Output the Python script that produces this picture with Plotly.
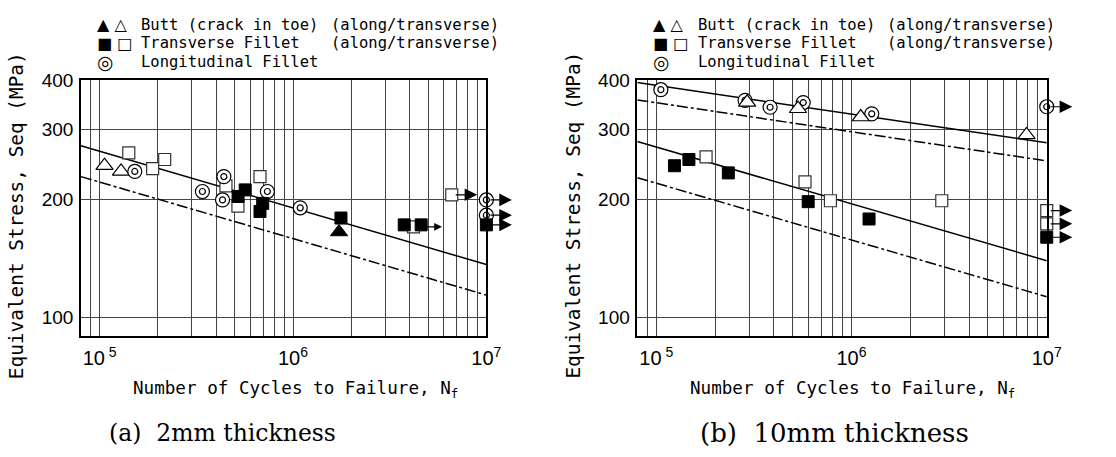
import math
import plotly.graph_objects as go

W, H = 1116, 457

# ---------------- (a) 2 mm thickness ----------------
a_butt_along_N = [1.73e6]
a_butt_along_S = [165]
a_butt_trans_N = [1.06e5, 1.29e5]
a_butt_trans_S = [243, 235]
a_tf_along_N = [5.2e5, 5.66e5, 6.97e5, 6.75e5, 1.77e6, 3.76e6, 4.6e6]
a_tf_along_S = [203, 211, 195, 186, 179, 172, 172]
a_tf_trans_N = [1.415e5, 1.88e5, 2.17e5, 4.5e5, 5.19e5, 6.75e5]
a_tf_trans_S = [262, 239, 252, 216, 192, 228]
a_long_N = [1.52e5, 3.4e5, 4.39e5, 4.32e5, 7.37e5, 1.09e6]
a_long_S = [235, 209, 228, 199, 209, 190]
# run-outs (no failure)
a_tf_along_run_N = [1e7]
a_tf_along_run_S = [172]
a_tf_trans_run_N = [6.62e6]
a_tf_trans_run_S = [205]
a_tf_trans_short_run_N = [4.2e6]
a_tf_trans_short_run_S = [170]
a_long_run_N = [1e7, 1e7]
a_long_run_S = [199, 182]
# design curves (mean / lower) at N = 8e4 and 1e7
curve_N = [8e4, 1e7]
a_mean_S = [273, 136.4]
a_lower_S = [228, 114.1]

# ---------------- (b) 10 mm thickness ----------------
b_butt_trans_N = [2.92e5, 5.32e5, 1.115e6, 7.88e6]
b_butt_trans_S = [352, 339, 323, 291]
b_tf_along_N = [1.24e5, 1.47e5, 2.34e5, 6.0e5, 1.23e6]
b_tf_along_S = [243, 252, 233, 197, 178]
b_tf_trans_N = [1.8e5, 5.78e5, 7.8e5, 2.9e6]
b_tf_trans_S = [256, 221, 198, 198]
b_long_N = [1.056e5, 2.85e5, 3.83e5, 5.66e5, 1.27e6]
b_long_S = [379, 356, 342, 351.5, 329]
b_long_run_N = [1e7]
b_long_run_S = [343]
b_tf_along_run_N = [1e7]
b_tf_along_run_S = [160]
b_tf_trans_run_N = [1e7, 1e7]
b_tf_trans_run_S = [187, 173]
b_long_mean_S = [395, 278]
b_long_lower_S = [357, 250]
b_tf_mean_S = [280, 139.5]
b_tf_lower_S = [226.6, 113]

# axis ticks
y_ticks = [100, 200, 300, 400]
x_grid = [8e4, 9e4] + [m * 10 ** d for d in (5, 6) for m in range(1, 10)] + [1e7]
x_labels = {1e5: "10<sup> 5</sup>", 1e6: "10<sup>6</sup>", 1e7: "10<sup>7</sup>"}

MONO = "DejaVu Sans Mono"
SANS = "Liberation Sans Narrow, Liberation Sans, Arial"
SERIF = "DejaVu Serif"

fig = go.Figure()

MK = {
    "tri_fill": dict(symbol="triangle-up", size=15, color="black",
                     line=dict(color="black", width=1)),
    "tri_open": dict(symbol="triangle-up", size=15, color="white",
                     line=dict(color="black", width=1.2)),
    "sq_fill": dict(symbol="square", size=12, color="black",
                    line=dict(color="black", width=1)),
    "sq_open": dict(symbol="square", size=12, color="white",
                    line=dict(color="#333", width=1.2)),
    "circ_out": dict(symbol="circle", size=14, color="white",
                     line=dict(color="black", width=1.2)),
    "circ_in": dict(symbol="circle-open", size=6, color="black",
                    line=dict(color="black", width=1.2)),
}


def pts(N, S, kind, xa, ya):
    fig.add_trace(go.Scatter(x=N, y=S, mode="markers", marker=MK[kind],
                             xaxis=xa, yaxis=ya, cliponaxis=False,
                             showlegend=False, hoverinfo="x+y"))


def dbl(N, S, xa, ya):
    pts(N, S, "circ_out", xa, ya)
    pts(N, S, "circ_in", xa, ya)


def curve(N, S, dash, xa, ya):
    fig.add_trace(go.Scatter(x=N, y=S, mode="lines",
                             line=dict(color="black", width=1.5, dash=dash),
                             xaxis=xa, yaxis=ya, showlegend=False,
                             hoverinfo="skip"))


def runout(N, S, xref, yref, length=27, head=2.1):
    for n, s in zip(N, S):
        fig.add_annotation(x=math.log10(n), y=math.log10(s), xref=xref, yref=yref,
                           text="", showarrow=True, ax=length, ay=0,
                           arrowside="start", startarrowhead=2,
                           startarrowsize=head, arrowwidth=1.2,
                           arrowcolor="black", standoff=4)


DASHDOT = "11px,3px,3px,3px"

# panel (a)
curve(curve_N, a_mean_S, "solid", "x", "y")
curve(curve_N, a_lower_S, DASHDOT, "x", "y")
runout(a_tf_trans_run_N, a_tf_trans_run_S, "x", "y")
runout(a_tf_trans_short_run_N, a_tf_trans_short_run_S, "x", "y", length=30, head=1.3)
runout(a_long_run_N, a_long_run_S, "x", "y")
runout(a_tf_along_run_N, a_tf_along_run_S, "x", "y")
pts(a_butt_trans_N, a_butt_trans_S, "tri_open", "x", "y")
pts(a_butt_along_N, a_butt_along_S, "tri_fill", "x", "y")
pts(a_tf_trans_N + a_tf_trans_run_N + a_tf_trans_short_run_N,
    a_tf_trans_S + a_tf_trans_run_S + a_tf_trans_short_run_S, "sq_open", "x", "y")
dbl(a_long_N + a_long_run_N, a_long_S + a_long_run_S, "x", "y")
pts(a_tf_along_N + a_tf_along_run_N, a_tf_along_S + a_tf_along_run_S, "sq_fill", "x", "y")

# panel (b)
curve(curve_N, b_long_mean_S, "solid", "x2", "y2")
curve(curve_N, b_long_lower_S, DASHDOT, "x2", "y2")
curve(curve_N, b_tf_mean_S, "solid", "x2", "y2")
curve(curve_N, b_tf_lower_S, DASHDOT, "x2", "y2")
runout(b_long_run_N, b_long_run_S, "x2", "y2")
runout(b_tf_trans_run_N, b_tf_trans_run_S, "x2", "y2")
runout(b_tf_along_run_N, b_tf_along_run_S, "x2", "y2")
dbl(b_long_N + b_long_run_N, b_long_S + b_long_run_S, "x2", "y2")
pts(b_butt_trans_N, b_butt_trans_S, "tri_open", "x2", "y2")
pts(b_tf_trans_N + b_tf_trans_run_N, b_tf_trans_S + b_tf_trans_run_S, "sq_open", "x2", "y2")
pts(b_tf_along_N + b_tf_along_run_N, b_tf_along_S + b_tf_along_run_S, "sq_fill", "x2", "y2")

y_dom = [1 - 333 / H, 1 - 72 / H]
xcommon = dict(type="log", range=[math.log10(8e4), 7],
               tickvals=x_grid, ticktext=[x_labels.get(v, "") for v in x_grid],
               showgrid=True, gridcolor="#444", gridwidth=1,
               showline=True, mirror=True, linecolor="black", linewidth=1.5,
               ticks="", zeroline=False, ticklabelstandoff=4,
               tickfont=dict(family=SANS, size=20, color="black"))
ycommon = dict(type="log", range=[math.log10(90), math.log10(400)],
               tickvals=y_ticks, ticktext=[str(v) for v in y_ticks],
               showgrid=True, gridcolor="#444", gridwidth=1,
               showline=True, mirror=True, linecolor="black", linewidth=1.5,
               ticks="", zeroline=False, domain=y_dom, ticklabelstandoff=2,
               tickfont=dict(family=SANS, size=19, color="black"))

fig.update_layout(
    width=W, height=H, margin=dict(l=0, r=0, t=0, b=0),
    paper_bgcolor="white", plot_bgcolor="white",
    xaxis=dict(domain=[82 / W, 493 / W], anchor="y", **xcommon),
    yaxis=dict(anchor="x", **ycommon),
    xaxis2=dict(domain=[646 / W, 1061 / W], anchor="y2", **xcommon),
    yaxis2=dict(anchor="x2", **ycommon),
)


def txt(x, y, s, size, family=MONO, angle=0, xanchor="left"):
    fig.add_annotation(x=x / W, y=1 - y / H, xref="paper", yref="paper",
                       text=s, showarrow=False, xanchor=xanchor, yanchor="middle",
                       textangle=angle, font=dict(family=family, size=size, color="black"))


legend_rows = [
    ("▲ △", 16, "Butt (crack in toe)", "(along/transverse)"),
    ("■ □", 16, "Transverse Fillet", "(along/transverse)"),
    ("◎", 19, "Longitudinal Fillet", ""),
]
for off in (0, 564):
    for i, (sym, sym_size, name, note) in enumerate(legend_rows):
        yy = 15 + i * 19
        txt(96 + off, yy, sym, sym_size, family="DejaVu Sans")
        txt(141 + off, yy, name, 15.5)
        if note:
            txt(333 + off, yy, note, 15.5)
    txt(300 + off, 388, "Number of Cycles to Failure, N<sub>f</sub>", 17.6, xanchor="center")
    txt(17 + off, 210, "Equivalent Stress, Seq (MPa)", 19.4, angle=-90, xanchor="center")

txt(226, 432, "(a)  2mm thickness", 23.5, family=SERIF, xanchor="center")
txt(846, 432, "(b)  10mm thickness", 26, family=SERIF, xanchor="center")

fig.write_html("out.html")
